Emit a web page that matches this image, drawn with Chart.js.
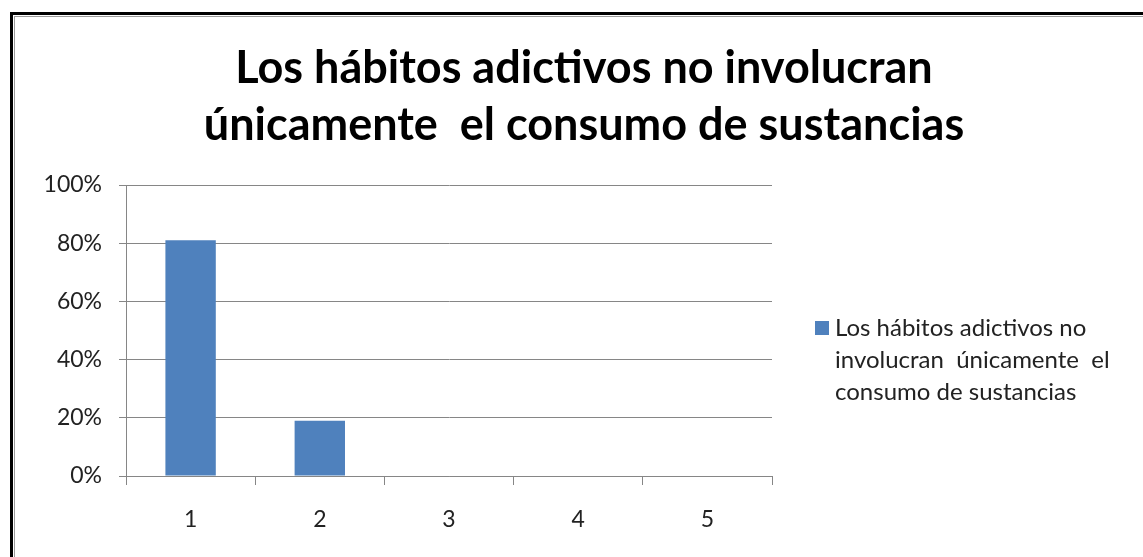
<!DOCTYPE html>
<html>
<head>
<meta charset="utf-8">
<script src="https://cdn.jsdelivr.net/npm/chart.js@4.4.0/dist/chart.umd.min.js"></script>
<style>
  html, body { margin: 0; padding: 0; background: #fff; overflow: hidden; }
  #frame { position: absolute; left: 10px; top: 12px; width: 1200px; height: 600px;
           border-left: 3px solid #000; border-top: 3px solid #000; }
  #frame .inner { position: absolute; left: 1px; top: 1px; right: 0; bottom: 0;
                  border-left: 1px solid #9a9a9a; border-top: 1px solid #9a9a9a; }
  canvas { position: absolute; left: 0; top: 0; }
</style>
</head>
<body>
<div id="frame"><div class="inner"></div></div>
<canvas id="myChart" width="1143" height="557"></canvas>
<script>
var titleLines = ["Los hábitos adictivos no involucran", "únicamente  el consumo de sustancias"];
var seriesName = "Los hábitos adictivos no involucran  únicamente  el consumo de sustancias";
var legendLines = ["Los hábitos adictivos no", "involucran  únicamente  el", "consumo de sustancias"];
var categories = ["1", "2", "3", "4", "5"];
var percentages = [81, 19, 0, 0, 0];

var barColor = "#4F81BD";
var gridColor = "#868686";
var textColor = "#222";

// title and wrapped legend drawn by hand, the built-in ones can't wrap/offset like this
var headerAndLegend = {
  id: "headerAndLegend",
  afterDraw: function (chart) {
    var ctx = chart.ctx;
    var area = chart.chartArea;
    ctx.save();

    ctx.fillStyle = "#000";
    ctx.font = "bold 45px Lato";
    ctx.textAlign = "center";
    ctx.textBaseline = "middle";
    titleLines.forEach(function (line, i) {
      ctx.fillText(line, 584, 68 + i * 57);
    });

    var lx = area.right + 43;
    ctx.fillStyle = chart.data.datasets[0].backgroundColor;
    ctx.fillRect(lx, 321, 14, 14);
    ctx.fillStyle = textColor;
    ctx.font = "24px Lato";
    ctx.textAlign = "left";
    ctx.textBaseline = "alphabetic";
    legendLines.forEach(function (line, i) {
      ctx.fillText(line, lx + 20, 336 + i * 32);
    });
    ctx.restore();
  },
};

window.onload = function () {
  var ctx = document.getElementById("myChart").getContext("2d");
  var myChart = new Chart(ctx, {
    type: "bar",
    data: {
      labels: categories,
      datasets: [
        {
          label: seriesName,
          data: percentages,
          backgroundColor: barColor,
          borderWidth: 0,
          barPercentage: 0.39,
          categoryPercentage: 1.0,
        },
      ],
    },
    options: {
      responsive: false,
      animation: false,
      layout: {
        padding: { top: 185, right: 371, left: 0, bottom: 0 },
      },
      plugins: {
        legend: { display: false },
        title: { display: false },
        tooltip: { enabled: false },
      },
      scales: {
        x: {
          grid: {
            offset: true,
            drawOnChartArea: false,
            drawTicks: true,
            tickLength: 9,
            color: gridColor,
          },
          border: { display: true, color: gridColor },
          ticks: {
            padding: 21,
            color: textColor,
            font: { family: "Lato", size: 23 },
          },
          afterFit: function (scale) {
            scale.height = 81;
          },
        },
        y: {
          min: 0,
          max: 100,
          grid: { tickLength: 7, color: gridColor },
          border: { display: true, color: gridColor },
          ticks: {
            stepSize: 20,
            padding: 17,
            color: textColor,
            font: { family: "Lato", size: 23 },
            callback: function (value) {
              return value + "%";
            },
          },
          afterFit: function (scale) {
            scale.width = 126;
          },
        },
      },
    },
    plugins: [headerAndLegend],
  });
};
</script>
</body>
</html>
